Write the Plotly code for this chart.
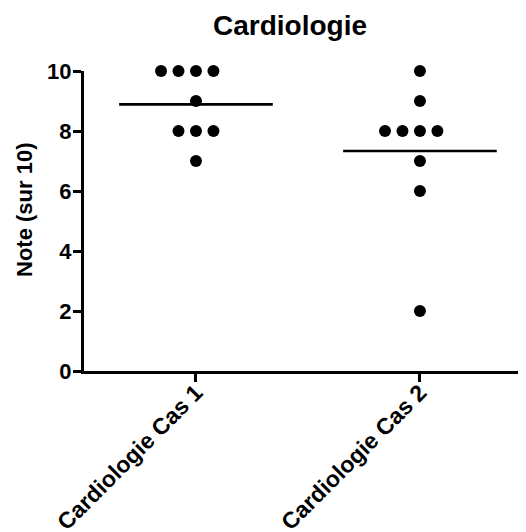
from collections import Counter

import plotly.graph_objects as go

# Data
groups = ["Cardiologie Cas 1", "Cardiologie Cas 2"]
cas1_notes = [10, 10, 10, 10, 9, 8, 8, 8, 7]
cas2_notes = [10, 9, 8, 8, 8, 8, 7, 6, 2]
y_ticks = [0, 2, 4, 6, 8, 10]

FONT = "Liberation Sans, Arial, sans-serif"
DOT_STEP = 0.078   # horizontal spread between tied points
MEAN_HALF = 0.343  # half width of the mean bar


def spread(values, center):
    # Prism-like scatter: tied values are spread sideways around the center
    counts = Counter(values)
    seen = Counter()
    xs = []
    for v in values:
        n = counts[v]
        i = seen[v]
        seen[v] += 1
        xs.append(center + (i - n // 2) * DOT_STEP)
    return xs


fig = go.Figure()

for pos, (name, notes) in enumerate(zip(groups, [cas1_notes, cas2_notes]), start=1):
    # Points
    fig.add_trace(
        go.Scatter(
            x=spread(notes, pos),
            y=notes,
            mode="markers",
            marker=dict(color="black", size=12),
            cliponaxis=False,
            name=name,
        )
    )
    # Mean line
    mean = sum(notes) / len(notes)
    fig.add_trace(
        go.Scatter(
            x=[pos - MEAN_HALF, pos + MEAN_HALF],
            y=[mean, mean],
            mode="lines",
            line=dict(color="black", width=2.7),
            name=name + " (moyenne)",
        )
    )

# Y axis title, placed by hand (sits a little above the axis centre)
fig.add_annotation(
    text="Note (sur 10)",
    textangle=-90,
    xref="paper",
    yref="paper",
    x=-0.133,
    y=0.537,
    xanchor="center",
    yanchor="middle",
    showarrow=False,
    font=dict(size=22),
)

fig.update_layout(
    width=526,
    height=532,
    showlegend=False,
    plot_bgcolor="white",
    paper_bgcolor="white",
    margin=dict(l=76, r=7, t=63, b=169),
    font=dict(family=FONT, color="black", size=22, weight="bold"),
    title=dict(
        text="Cardiologie",
        font=dict(family=FONT, size=28, weight="bold"),
        x=282 / 526,
        xanchor="center",
        y=1 - 17 / 532,
        yanchor="middle",
    ),
    xaxis=dict(
        range=[0.5, 2.478],
        tickvals=[1, 2],
        ticktext=groups,
        tickangle=-45,
        ticks="outside",
        ticklen=8,
        tickwidth=2.5,
        tickcolor="black",
        showline=True,
        linecolor="black",
        linewidth=3,
        showgrid=False,
        zeroline=False,
        automargin=False,
        tickfont=dict(size=23),
        ticklabelstandoff=-12,
    ),
    yaxis=dict(
        range=[0, 10],
        tickvals=y_ticks,
        ticks="outside",
        ticklen=8,
        tickwidth=2.5,
        tickcolor="black",
        showline=True,
        linecolor="black",
        linewidth=3,
        showgrid=False,
        zeroline=False,
        automargin=False,
        tickfont=dict(size=22),
        ticklabelstandoff=-3,
    ),
)

fig.write_html("out.html")
